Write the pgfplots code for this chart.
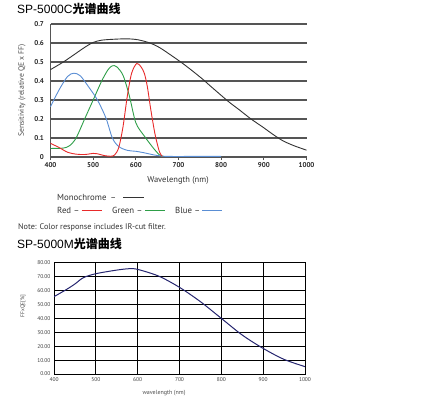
\documentclass[border=0pt]{standalone}
\usepackage{pgfplots}
\pgfplotsset{compat=1.18}
\usepackage{fontspec}
\setmainfont{PT Sans}
\newfontfamily\cjk{Noto Sans CJK SC}
\newfontfamily\lib{Liberation Sans}
\definecolor{mono}{HTML}{333333}
\definecolor{cred}{HTML}{E82A2A}
\definecolor{cgreen}{HTML}{2E9E48}
\definecolor{cblue}{HTML}{5A8ED4}
\definecolor{navy}{HTML}{24246E}
\definecolor{gridc}{HTML}{555555}
\begin{document}
\begin{tikzpicture}[x=1pt,y=1pt]
\path[use as bounding box] (0,0) rectangle (425,-399);
% Title 1
\node[anchor=west,inner sep=0pt,font=\fontsize{12}{14}\selectfont] at (17,-9) {\lib SP-5000C\cjk\bfseries 光谱曲线};
\begin{axis}[
  at={(50.5pt,-157pt)}, anchor=south west,
  scale only axis, width=256pt, height=133pt,
  xmin=400, xmax=1000, ymin=0, ymax=0.7,
  xtick={400,500,600,700,800,900,1000},
  xticklabels={400,500,600,700,800,900,1000},
  ytick={0,0.1,0.2,0.3,0.4,0.5,0.6,0.7},
  yticklabels={0,0.1,0.2,0.3,0.4,0.5,0.6,0.7},
  axis x line*=bottom, axis y line*=left,
  axis line style={gridc, line width=0.9pt, -},
  ymajorgrids, grid style={gridc, line width=1.1pt},
  tick align=outside, major tick length=3pt,
  xtick style={gridc, line width=0.8pt},
  ytick style={draw=none},
  xticklabel style={font=\fontsize{7}{8}\selectfont\bfseries, text=black!85, yshift=1pt},
  yticklabel style={font=\fontsize{7}{8}\selectfont\bfseries, text=black!85},
  clip=false,
]
\addplot[mono, line width=0.9pt, smooth] coordinates {
(400,0.46)(430,0.50)(460,0.546)(480,0.577)(500,0.603)(520,0.615)(550,0.620)(580,0.622)(605,0.617)(633,0.600)(657,0.574)(704,0.502)(735,0.449)(759,0.405)(774,0.375)(817,0.292)(841,0.251)(870,0.200)(896,0.160)(922,0.118)(945,0.085)(970,0.060)(1000,0.036)};
\addplot[cgreen, line width=0.9pt, smooth] coordinates {
(400,0.045)(430,0.047)(445,0.06)(460,0.10)(480,0.20)(500,0.30)(520,0.40)(535,0.46)(545,0.48)(555,0.475)(570,0.43)(585,0.32)(600,0.18)(620,0.11)(640,0.05)(655,0.012)(665,0.003)};
\addplot[cblue, line width=0.9pt, smooth] coordinates {
(400,0.265)(420,0.353)(440,0.424)(455,0.441)(470,0.427)(490,0.367)(510,0.30)(530,0.205)(545,0.10)(560,0.055)(580,0.035)(600,0.03)(620,0.022)(640,0.012)(660,0.005)(680,0.003)(740,0.003)(800,0.003)};
\addplot[cred, line width=0.9pt, smooth] coordinates {
(400,0.072)(420,0.05)(440,0.025)(460,0.015)(480,0.013)(500,0.019)(510,0.017)(525,0.008)(540,0.004)(550,0.01)(560,0.05)(570,0.16)(580,0.32)(590,0.44)(602,0.492)(612,0.475)(620,0.44)(627,0.37)(635,0.25)(645,0.12)(655,0.03)(662,0.003)};
\end{axis}
% labels chart 1
\node[rotate=90,font=\fontsize{7.7}{9}\selectfont,text=black!70] at (22,-90.5) {Sensitivity (relative QE x FF)};
\node[font=\fontsize{8.5}{10}\selectfont,text=black!80] at (178,-180) {Wavelength (nm)};
% legend
\node[anchor=west,inner sep=0pt,font=\fontsize{8.8}{10}\selectfont,text=black!80] at (57,-197) {Monochrome \,--};
\draw[mono,line width=1pt] (123,-197) -- (144,-197);
\node[anchor=west,inner sep=0pt,font=\fontsize{8.8}{10}\selectfont,text=black!80] at (57,-210) {Red --};
\draw[cred,line width=1pt] (81.5,-210) -- (101.5,-210);
\node[anchor=west,inner sep=0pt,font=\fontsize{8.8}{10}\selectfont,text=black!80] at (112,-210) {Green --};
\draw[cgreen,line width=1pt] (145,-210) -- (165,-210);
\node[anchor=west,inner sep=0pt,font=\fontsize{8.8}{10}\selectfont,text=black!80] at (175,-210) {Blue --};
\draw[cblue,line width=1pt] (202,-210) -- (222,-210);
\node[anchor=west,inner sep=0pt,font=\fontsize{8.2}{9}\selectfont,text=black!80] at (18,-227.5) {Note: Color response includes IR-cut filter.};
% Title 2
\node[anchor=west,inner sep=0pt,font=\fontsize{12}{14}\selectfont] at (17,-244) {\lib SP-5000M\cjk\bfseries 光谱曲线};
\begin{axis}[
  at={(54pt,-374pt)}, anchor=south west,
  scale only axis, width=251pt, height=111.3pt,
  xmin=400, xmax=1000, ymin=0, ymax=80,
  xtick={400,500,600,700,800,900,1000},
  xticklabels={400,500,600,700,800,900,1000},
  ytick={0,10,20,30,40,50,60,70,80},
  yticklabels={0.00,10.00,20.00,30.00,40.00,50.00,60.00,70.00,80.00},
  grid=major, grid style={black, line width=0.8pt},
  axis line style={black, line width=0.8pt},
  major tick length=0pt,
  xticklabel style={font=\fontsize{5.5}{6}\selectfont, text=black!75},
  yticklabel style={font=\fontsize{5.5}{6}\selectfont, text=black!75},
]
\addplot[navy, line width=1pt, smooth] coordinates {
(400,55.6)(430,60.8)(450,64.7)(470,69.2)(500,72.1)(550,74.7)(580,75.7)(600,75.2)(650,70.4)(700,62.3)(750,52.0)(800,40.0)(850,28.0)(900,18.4)(950,10.5)(1000,5.3)};
\end{axis}
\node[font=\fontsize{6}{7}\selectfont,text=black!70] at (164,-393) {wavelength (nm)};
\node[rotate=90,font=\fontsize{5.5}{6}\selectfont,text=black!70] at (23,-306) {FFxQE[\%]};
\end{tikzpicture}
\end{document}
